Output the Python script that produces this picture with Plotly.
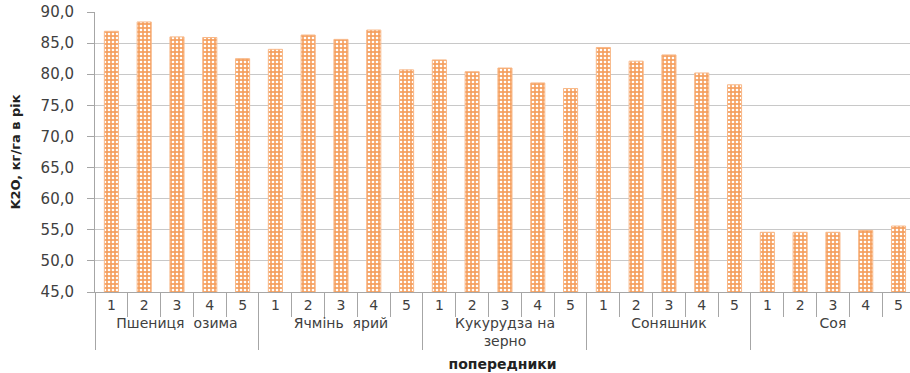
import plotly.graph_objects as go

# Predecessor crops and plot numbers
groups = ["Пшениця\u00a0 озима", "Ячмінь\u00a0 ярий", "Кукурудза на<br>зерно", "Соняшник", "Соя"]
plots = ["1", "2", "3", "4", "5"]

# K2O, kg/ha per year for each predecessor (plots 1..5)
wheat = [86.9, 88.4, 86.0, 85.9, 82.5]
barley = [84.0, 86.3, 85.6, 87.1, 80.7]
corn = [82.3, 80.4, 81.0, 78.6, 77.7]
sunflower = [84.3, 82.1, 83.1, 80.2, 78.3]
soy = [54.6, 54.6, 54.6, 54.9, 55.6]

y_ticks = [45, 50, 55, 60, 65, 70, 75, 80, 85, 90]

values = wheat + barley + corn + sunflower + soy
outer = [g for g in groups for _ in plots]
inner = plots * len(groups)

FONT = "DejaVu Sans"
GRID = "#c8c8c8"
AXIS = "#a6a6a6"
TEXT = "#404040"

fig = go.Figure(
    go.Bar(
        x=[outer, inner],
        y=values,
        marker=dict(
            color="#f5a060",
            line=dict(color="#f8b888", width=1),
            pattern=dict(
                shape=".",
                fgcolor="#ffffff",
                bgcolor="#f5a060",
                size=4,
                solidity=0.35,
                fillmode="replace",
            ),
        ),
        hoverinfo="skip",
    )
)

fig.update_layout(
    width=910,
    height=373,
    margin=dict(l=95, r=0, t=12, b=81),
    plot_bgcolor="white",
    paper_bgcolor="white",
    separators=", ",
    bargap=0.57,
    showlegend=False,
    font=dict(family=FONT, color=TEXT),
)

fig.update_yaxes(
    range=[45, 90],
    tickvals=y_ticks,
    tickformat=".1f",
    showgrid=True,
    gridcolor=GRID,
    gridwidth=1,
    showline=True,
    linecolor=AXIS,
    ticks="outside",
    ticklen=7,
    tickcolor=AXIS,
    ticklabelstandoff=10,
    tickfont=dict(size=15, color=TEXT, family=FONT),
    zeroline=False,
    title=dict(
        text="<b>K2O, кг/га в рік</b>",
        font=dict(size=13, color="#222222", family=FONT),
        standoff=17,
    ),
)

fig.update_xaxes(
    type="multicategory",
    range=[-0.5, 24.35],
    showline=True,
    linecolor=AXIS,
    ticks="outside",
    ticklen=24,
    tickcolor=AXIS,
    showdividers=True,
    dividercolor=AXIS,
    dividerwidth=1,
    tickfont=dict(size=14, color=TEXT, family=FONT),
    title=dict(
        text="<b>попередники</b>",
        font=dict(size=14, color="#222222", family=FONT),
        standoff=11,
    ),
)

fig.write_html("out.html")
